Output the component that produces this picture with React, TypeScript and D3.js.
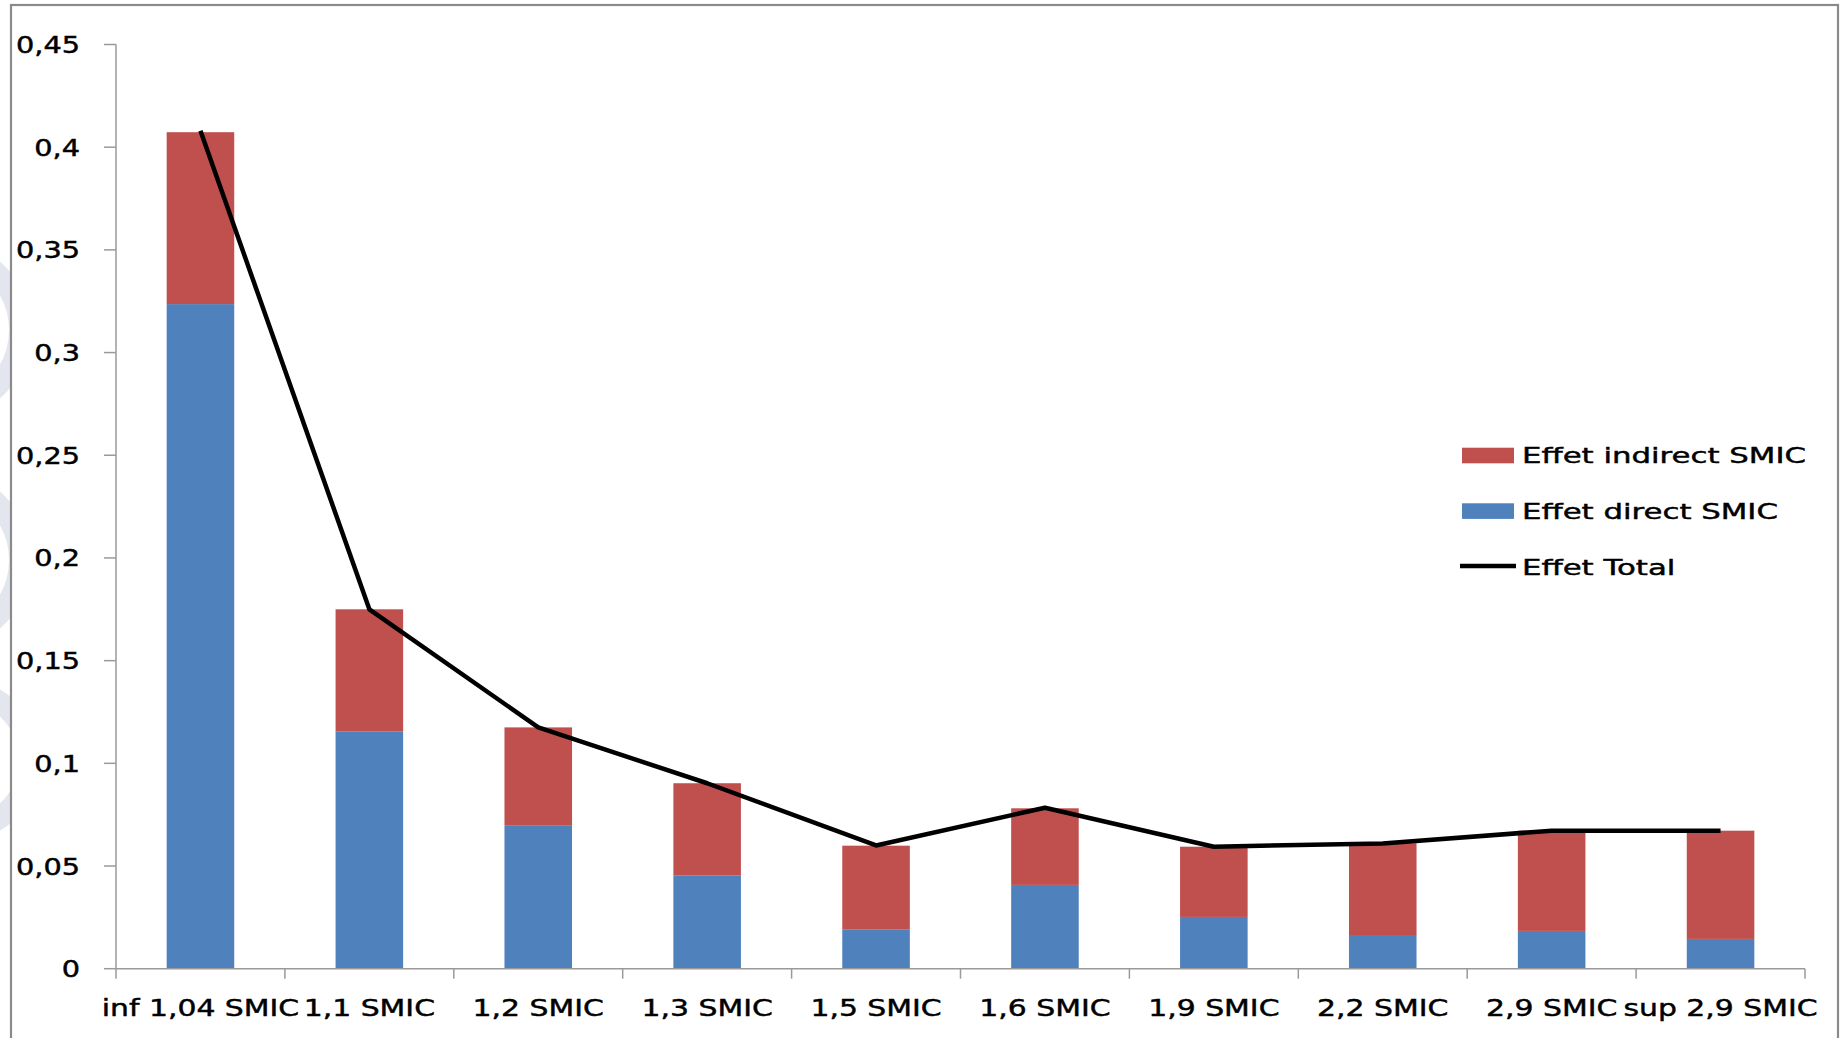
import React from "react";
import * as d3 from "d3";

const categories = [
  "inf 1,04 SMIC",
  "1,1 SMIC",
  "1,2 SMIC",
  "1,3 SMIC",
  "1,5 SMIC",
  "1,6 SMIC",
  "1,9 SMIC",
  "2,2 SMIC",
  "2,9 SMIC",
  "sup 2,9 SMIC",
];
const directValues = [0.3236, 0.1156, 0.0696, 0.0453, 0.019, 0.0408, 0.0252, 0.0164, 0.0184, 0.0145];
const indirectValues = [0.0837, 0.0594, 0.0479, 0.045, 0.0409, 0.0373, 0.0342, 0.0447, 0.0488, 0.0527];
const totalValues = [0.408, 0.175, 0.1175, 0.0903, 0.06, 0.0784, 0.0594, 0.061, 0.0672, 0.0672];
const yTicks = [0, 0.05, 0.1, 0.15, 0.2, 0.25, 0.3, 0.35, 0.4, 0.45];
const seriesNames = ["Effet indirect SMIC", "Effet direct SMIC", "Effet Total"];

const W = 1841;
const H = 1038;
const FONT = "'DejaVu Sans', Verdana, sans-serif";
const RED = "#C0504D";
const BLUE = "#4F81BD";
const AXIS = "#9a9a9a";

const locale = d3.formatLocale({ decimal: ",", thousands: " ", grouping: [3], currency: ["", "€"] });
const fmt = locale.format("~g");

export default function App() {
  const left = 116;
  const right = 1805;
  const y0 = 968.7;
  const yTop = 44.5;

  const x = d3.scaleBand<string>().domain(categories).range([left, right]).paddingInner(0.6).paddingOuter(0.3);
  const xCat = d3.scaleBand<string>().domain(categories).range([left, right]).padding(0);
  const y = d3.scaleLinear().domain([0, 0.45]).range([y0, yTop]);

  const line = d3
    .line<number>()
    .x((_, i) => (xCat(categories[i]) as number) + xCat.bandwidth() / 2)
    .y((d) => y(d));

  const boundaries = categories.map((c) => xCat(c) as number).concat([right]);
  const textStroke = { stroke: "#000", strokeWidth: 0.45 };

  return (
    <svg
      width={W}
      height={H}
      style={{ position: "absolute", left: 0, top: 0, background: "#fff" }}
      fontFamily={FONT}
    >
      <rect x={0} y={0} width={W} height={H} fill="#fff" />
      {/* faint watermark at left edge */}
      <g clipPath="url(#wm)">
        <defs>
          <clipPath id="wm">
            <rect x={0} y={0} width={10} height={H} />
          </clipPath>
        </defs>
        <circle cx={-60} cy={330} r={80} fill="none" stroke="#e4e6ef" strokeWidth={22} />
        <circle cx={-60} cy={560} r={80} fill="none" stroke="#e4e6ef" strokeWidth={22} />
        <circle cx={-40} cy={760} r={70} fill="none" stroke="#e4e6ef" strokeWidth={22} />
      </g>
      {/* chart border */}
      <rect x={11} y={5} width={1827} height={H + 20} fill="none" stroke="#8a8a8a" strokeWidth={2.2} />

      {/* y axis */}
      <line x1={left} x2={left} y1={yTop} y2={y0} stroke={AXIS} strokeWidth={1.5} />
      {yTicks.map((t) => (
        <g key={t}>
          <line x1={left - 12} x2={left} y1={y(t)} y2={y(t)} stroke={AXIS} strokeWidth={1.5} />
          <text
            transform={`translate(80,${y(t) + 8.5}) scale(1.25,1)`}
            textAnchor="end"
            fontSize={23}
            fill="#000"
            {...textStroke}
          >
            {fmt(t)}
          </text>
        </g>
      ))}

      {/* bars */}
      {categories.map((c, i) => (
        <g key={c}>
          <rect
            x={x(c)}
            width={x.bandwidth()}
            y={y(directValues[i])}
            height={y0 - y(directValues[i])}
            fill={BLUE}
          />
          <rect
            x={x(c)}
            width={x.bandwidth()}
            y={y(directValues[i] + indirectValues[i])}
            height={y(directValues[i]) - y(directValues[i] + indirectValues[i])}
            fill={RED}
          />
        </g>
      ))}

      {/* x axis */}
      <line x1={left} x2={right} y1={y0} y2={y0} stroke={AXIS} strokeWidth={1.5} />
      {boundaries.map((b, i) => (
        <line key={i} x1={b} x2={b} y1={y0} y2={y0 + 10} stroke={AXIS} strokeWidth={1.5} />
      ))}
      {categories.map((c) => (
        <text
          key={c}
          transform={`translate(${(xCat(c) as number) + xCat.bandwidth() / 2},1016) scale(1.27,1)`}
          textAnchor="middle"
          fontSize={23.5}
          fill="#000"
          {...textStroke}
        >
          {c}
        </text>
      ))}

      {/* total line */}
      <path d={line(totalValues) || ""} fill="none" stroke="#000" strokeWidth={4.5} strokeLinejoin="round" />

      {/* legend */}
      <rect x={1462} y={447.7} width={52} height={15.6} fill={RED} />
      <rect x={1462} y={503.3} width={52} height={15.6} fill={BLUE} />
      <line x1={1460} x2={1516} y1={566} y2={566} stroke="#000" strokeWidth={4.5} />
      {seriesNames.map((s, i) => (
        <text
          key={s}
          transform={`translate(1522,${[463.3, 519.3, 575][i]}) scale(1.4,1)`}
          fontSize={22}
          fill="#000"
          {...textStroke}
        >
          {s}
        </text>
      ))}
    </svg>
  );
}
